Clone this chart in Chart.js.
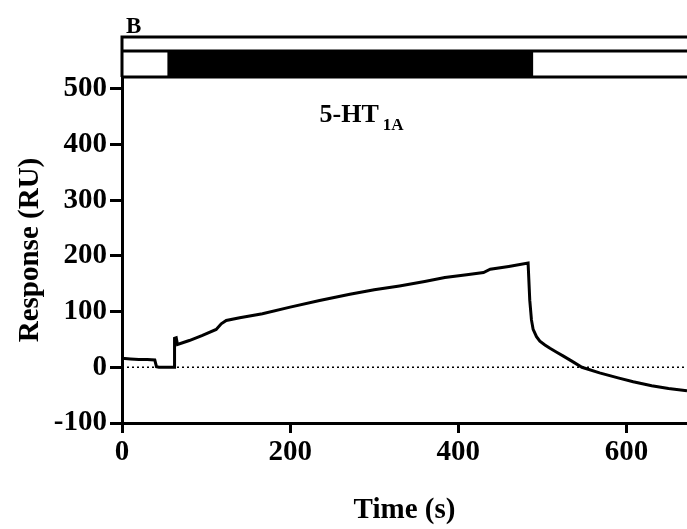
<!DOCTYPE html>
<html>
<head>
<meta charset="utf-8">
<script src="https://cdn.jsdelivr.net/npm/chart.js@4.4.1/dist/chart.umd.min.js"></script>
<style>
  html, body { margin: 0; padding: 0; background: #fff; }
</style>
</head>
<body>
<canvas id="sprChart" width="687" height="529"></canvas>
<script>
// sensorgram trace (time in s, response in RU)
const times = [0, 10, 20, 30, 39, 41, 44, 50, 56, 62, 62.5, 64.5, 66, 80, 95, 112, 118, 124, 140, 167, 200, 235, 271, 300, 330, 360, 384, 410, 430, 438, 460, 483, 485, 487, 489, 493, 497, 503, 509, 517, 525, 535, 547, 568, 590, 608, 630, 650, 672];
const responses = [16, 15, 14, 14, 13, 1, 0, 0, 0, 0, 52, 53, 41, 48, 57, 68, 78, 84, 89, 96, 108, 120, 131, 139, 146, 154, 161, 166, 170, 176, 181, 187, 120, 85, 68, 55, 47, 40, 34, 27, 20, 11, 0, -10, -19, -26, -33, -38, -42];
// injection period shown by the black bar
const injection = [54, 489];
const xTicks = [0, 200, 400, 600];
const yTicks = [-100, 0, 100, 200, 300, 400, 500];
const xRange = [0, 672];
const yRange = [-100, 521];

const serif = '"Liberation Serif", "Times New Roman", serif';

const trace = times.map((t, i) => ({ x: t, y: responses[i] }));
const baseline = [{ x: xRange[0], y: 0 }, { x: xRange[1], y: 0 }];

// bar on top + panel letter + receptor label
const annotations = {
    id: 'annotations',
    afterDraw(chart) {
        const { ctx, chartArea, scales } = chart;
        const left = chartArea.left, right = chartArea.right;
        const top = chartArea.top;
        ctx.save();
        ctx.strokeStyle = '#000';
        ctx.fillStyle = '#000';
        ctx.lineWidth = 3;
        // black bar = injection
        const x0 = scales.x.getPixelForValue(injection[0]);
        const x1 = scales.x.getPixelForValue(injection[1]);
        ctx.fillRect(x0, top - 26, x1 - x0, 26);
        ctx.beginPath();
        ctx.moveTo(left, top - 40); ctx.lineTo(right, top - 40);
        ctx.moveTo(left, top - 26); ctx.lineTo(right, top - 26);
        ctx.moveTo(left, top); ctx.lineTo(right, top);
        ctx.moveTo(left, top - 41.5); ctx.lineTo(left, top);
        ctx.stroke();

        ctx.textBaseline = 'alphabetic';
        ctx.textAlign = 'left';
        ctx.font = 'bold 23px ' + serif;
        ctx.fillText('B', left + 4, top - 44);

        const lx = scales.x.getPixelForValue(235);
        const ly = scales.y.getPixelForValue(440);
        ctx.font = 'bold 26px ' + serif;
        ctx.fillText('5-HT', lx, ly);
        const w = ctx.measureText('5-HT').width;
        ctx.font = 'bold 17px ' + serif;
        ctx.fillText('1A', lx + w + 4, ly + 8);
        ctx.restore();
    }
};

const keepTicks = list => scale => {
    scale.ticks = list.map(v => ({ value: v }));
};

new Chart(document.getElementById('sprChart').getContext('2d'), {
    type: 'line',
    data: {
        datasets: [{
            data: trace,
            borderColor: '#000',
            borderWidth: 3,
            pointRadius: 0,
            tension: 0,
            fill: false
        }, {
            data: baseline,
            borderColor: '#000',
            borderWidth: 1.5,
            borderDash: [2, 3],
            pointRadius: 0,
            fill: false
        }]
    },
    options: {
        responsive: false,
        animation: false,
        events: [],
        layout: { padding: { top: 77, left: 0, right: 0, bottom: 0 } },
        plugins: { legend: { display: false }, tooltip: { enabled: false } },
        scales: {
            x: {
                type: 'linear',
                min: xRange[0],
                max: xRange[1],
                afterBuildTicks: keepTicks(xTicks),
                afterFit: s => { s.height = 106; },
                ticks: { stepSize: 200, color: '#000', padding: 2, maxRotation: 0,
                         font: { family: serif, size: 29, weight: 'bold' } },
                grid: { drawOnChartArea: false, drawTicks: true, tickLength: 10, color: '#000', lineWidth: 3 },
                border: { display: true, color: '#000', width: 3 },
                title: { display: true, text: 'Time (s)', color: '#000', padding: { top: 0, bottom: 1 },
                         font: { family: serif, size: 29, weight: 'bold' } }
            },
            y: {
                type: 'linear',
                min: yRange[0],
                max: yRange[1],
                afterBuildTicks: keepTicks(yTicks),
                afterFit: s => { s.width = 122; },
                ticks: { stepSize: 100, color: '#000', padding: 3,
                         font: { family: serif, size: 29, weight: 'bold' } },
                grid: { drawOnChartArea: false, drawTicks: true, tickLength: 12, color: '#000', lineWidth: 3 },
                border: { display: true, color: '#000', width: 3 },
                title: { display: true, text: 'Response (RU)', color: '#000', padding: { top: 13, bottom: 0 },
                         font: { family: serif, size: 29, weight: 'bold' } }
            }
        }
    },
    plugins: [annotations]
});
</script>
</body>
</html>
